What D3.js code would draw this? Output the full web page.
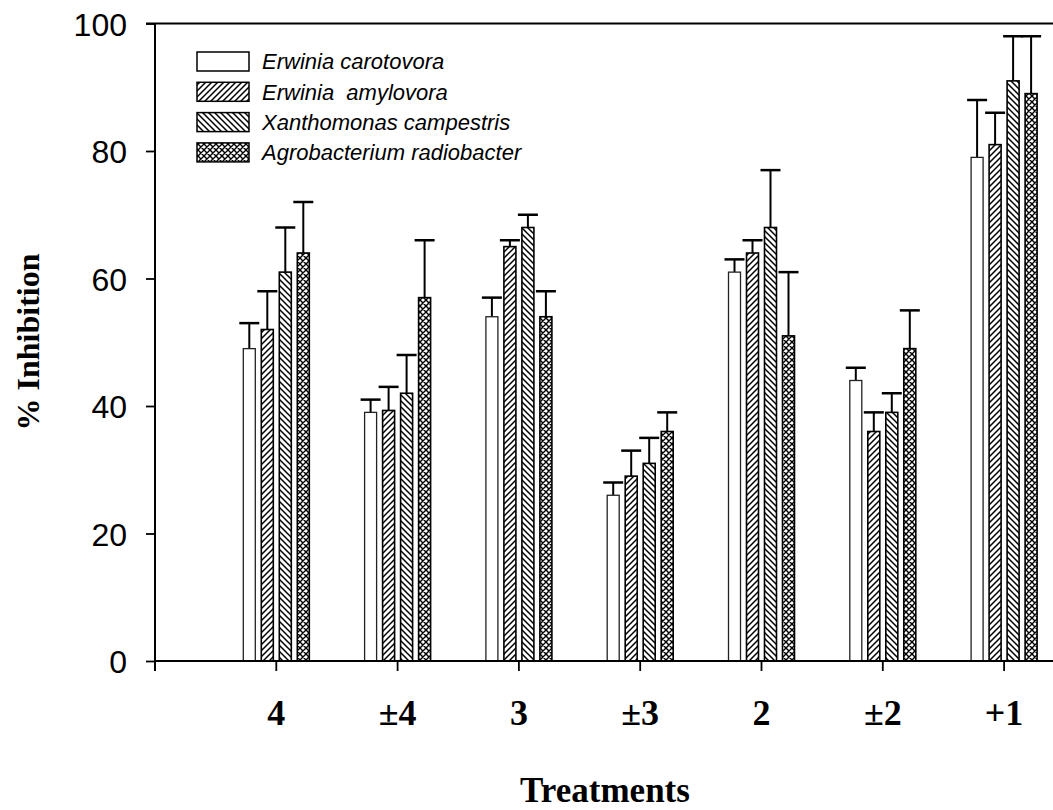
<!DOCTYPE html>
<html><head><meta charset="utf-8">
<script src="https://cdn.jsdelivr.net/npm/d3@7"></script>
<style>
html,body{margin:0;padding:0;background:#fff;}
svg{display:block;}
</style>
</head><body>
<svg id="chart" width="1053" height="810"></svg>
<script>
const categories = ["4", "±4", "3", "±3", "2", "±2", "+1"];
const seriesNames = ["Erwinia carotovora", "Erwinia  amylovora", "Xanthomonas campestris", "Agrobacterium radiobacter"];
const carotovora   = [49, 39, 54, 26, 61, 44, 79];
const amylovora    = [52, 39.3, 65, 29, 64, 36, 81];
const campestris   = [61, 42, 68, 31, 68, 39, 91];
const radiobacter  = [64, 57, 54, 36, 51, 49, 89];
const errCarotovora  = [4, 2, 3, 2, 2, 2, 9];
const errAmylovora   = [6, 3.7, 1, 4, 2, 3, 5];
const errCampestris  = [7, 6, 2, 4, 9, 3, 7];
const errRadiobacter = [8, 9, 4, 3, 10, 6, 9];
const yTicks = [0, 20, 40, 60, 80, 100];

const seriesValues = [carotovora, amylovora, campestris, radiobacter];
const seriesErrors = [errCarotovora, errAmylovora, errCampestris, errRadiobacter];
const fills = ["#fff", "url(#hatchFwd)", "url(#hatchBack)", "url(#hatchCross)"];

const svg = d3.select("#chart");
const mLeft = 155, mRight = 1053, mTop = 23.5, mBottom = 661;
const step = 121.3;

const defs = svg.append("defs");
function pat(id, d, sw) {
  const p = defs.append("pattern").attr("id", id).attr("patternUnits", "userSpaceOnUse")
    .attr("width", 6).attr("height", 6);
  p.append("rect").attr("width", 6).attr("height", 6).attr("fill", "#fff");
  p.append("path").attr("d", d).attr("stroke", "#000").attr("stroke-width", sw).attr("fill", "none");
}
pat("hatchFwd", "M0,6 L6,0 M-1,1 L1,-1 M5,7 L7,5", 1.5);
pat("hatchBack", "M0,0 L6,6 M-1,5 L1,7 M5,-1 L7,1", 1.5);
pat("hatchCross", "M0,6 L6,0 M-1,1 L1,-1 M5,7 L7,5 M0,0 L6,6 M-1,5 L1,7 M5,-1 L7,1", 1.4);

const x = d3.scaleBand().domain(categories).range([mLeft + step * 0.5, mLeft + step * 7.5]).padding(0);
const xs = d3.scaleBand().domain(d3.range(4)).range([-36, 36]).paddingInner(1 / 3).paddingOuter(1 / 6);
const y = d3.scaleLinear().domain([0, 100]).range([mBottom, mTop]);

// top frame
svg.append("line").attr("x1", mLeft - 9).attr("x2", mRight).attr("y1", y(100)).attr("y2", y(100))
  .attr("stroke", "#000").attr("stroke-width", 2);

// bars
const g = svg.append("g");
categories.forEach((c, i) => {
  const cx = x(c) + x.bandwidth() / 2;
  seriesValues.forEach((vals, s) => {
    const bx = cx + xs(s);
    const w = xs.bandwidth();
    const v = vals[i], e = seriesErrors[s][i];
    g.append("line").attr("x1", bx + w / 2).attr("x2", bx + w / 2)
      .attr("y1", y(v)).attr("y2", y(v + e)).attr("stroke", "#000").attr("stroke-width", 2);
    g.append("line").attr("x1", bx + w / 2 - 10).attr("x2", bx + w / 2 + 10)
      .attr("y1", y(v + e)).attr("y2", y(v + e)).attr("stroke", "#000").attr("stroke-width", 2.5);
    g.append("rect").attr("x", bx).attr("y", y(v)).attr("width", w).attr("height", y(0) - y(v))
      .attr("fill", fills[s]).attr("stroke", s === 0 ? "#222" : "#000").attr("stroke-width", s === 0 ? 1.3 : 1.6);
  });
});

// y axis
const yAxis = svg.append("g").attr("transform", `translate(${mLeft},0)`)
  .call(d3.axisLeft(y).tickValues(yTicks).tickSize(9).tickPadding(19).tickSizeOuter(0));
yAxis.select(".domain").remove();
yAxis.append("line").attr("x1", 0).attr("x2", 0).attr("y1", mTop).attr("y2", mBottom + 10)
  .attr("stroke", "#000").attr("stroke-width", 2);
yAxis.selectAll(".tick line").attr("stroke", "#000").attr("stroke-width", 1.8);
yAxis.selectAll(".tick text").attr("font-family", "'Liberation Sans', Arial, sans-serif")
  .attr("font-size", 32).attr("fill", "#000").attr("dy", "0.36em");

// x axis
const xAxis = svg.append("g").attr("transform", `translate(0,${mBottom})`)
  .call(d3.axisBottom(x).tickSize(10).tickFormat("").tickSizeOuter(0));
xAxis.select(".domain").remove();
xAxis.append("line").attr("x1", mLeft).attr("x2", mRight).attr("y1", 0).attr("y2", 0)
  .attr("stroke", "#000").attr("stroke-width", 2);
xAxis.selectAll(".tick line").attr("stroke", "#000").attr("stroke-width", 1.8);

svg.append("g").selectAll("text").data(categories).join("text")
  .attr("x", d => x(d) + x.bandwidth() / 2).attr("y", 725)
  .attr("text-anchor", "middle")
  .attr("font-family", "'Liberation Serif', 'Times New Roman', serif")
  .attr("font-weight", "bold").attr("font-size", 36).attr("fill", "#000")
  .text(d => d);

// axis titles
svg.append("text").attr("x", 605).attr("y", 802).attr("text-anchor", "middle")
  .attr("font-family", "'Liberation Serif', 'Times New Roman', serif")
  .attr("font-weight", "bold").attr("font-size", 35).text("Treatments");
svg.append("text").attr("transform", "translate(39,342) rotate(-90)").attr("text-anchor", "middle")
  .attr("font-family", "'Liberation Serif', 'Times New Roman', serif")
  .attr("font-weight", "bold").attr("font-size", 32).text("% Inhibition");

// legend
const legend = svg.append("g");
seriesNames.forEach((name, s) => {
  const ly = 52 + s * 30.3;
  legend.append("rect").attr("x", 197).attr("y", ly).attr("width", 52).attr("height", 19)
    .attr("fill", fills[s]).attr("stroke", "#000").attr("stroke-width", 1.5);
  legend.append("text").attr("x", 262).attr("y", ly + 9.5).attr("dy", "0.36em")
    .attr("font-family", "'Liberation Sans', Arial, sans-serif").attr("font-style", "italic")
    .attr("font-size", 22).attr("xml:space", "preserve").style("white-space", "pre")
    .text(name);
});
</script>
</body></html>
